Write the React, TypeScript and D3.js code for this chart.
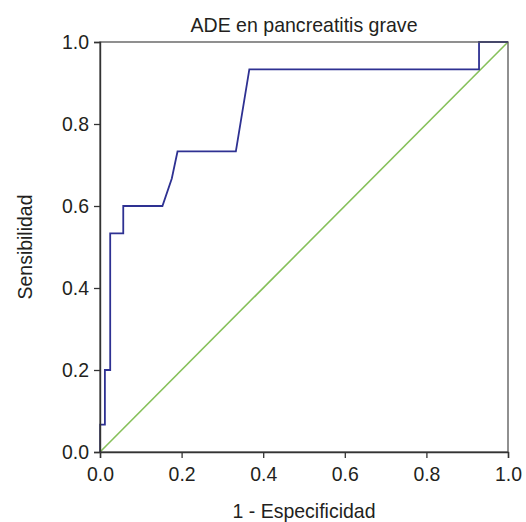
import React, { useEffect, useRef } from "react";
import * as d3 from "d3";

// ROC curve points (1 - especificidad, sensibilidad)
const fpr = [0, 0, 0.012, 0.012, 0.025, 0.025, 0.057, 0.057, 0.153, 0.176, 0.19, 0.333, 0.366, 0.929, 0.929, 1];
const tpr = [0, 0.067, 0.067, 0.2, 0.2, 0.533, 0.533, 0.6, 0.6, 0.667, 0.733, 0.733, 0.933, 0.933, 1, 1];
const ticks = [0, 0.2, 0.4, 0.6, 0.8, 1];

const title = "ADE en pancreatitis grave";
const xLabel = "1 - Especificidad";
const yLabel = "Sensibilidad";

export default function App() {
  const chartRef = useRef<SVGSVGElement>(null);

  useEffect(() => {
    const svg = d3.select(chartRef.current);
    svg.selectAll("*").remove();

    const font = "'Liberation Sans', Arial, sans-serif";
    const ink = "#231f20";
    const left = 100;
    const right = 508;
    const top = 42;
    const bottom = 452;

    const x = d3.scaleLinear().domain([0, 1]).range([left, right]);
    const y = d3.scaleLinear().domain([0, 1]).range([bottom, top]);

    // Reference diagonal
    svg
      .append("line")
      .attr("x1", x(0))
      .attr("y1", y(0))
      .attr("x2", x(1))
      .attr("y2", y(1))
      .attr("stroke", "#86c05a")
      .attr("stroke-width", 1.6);

    // ROC curve
    const line = d3
      .line<number>()
      .x((d, i) => x(fpr[i]))
      .y((d) => y(d));

    svg
      .append("path")
      .datum(tpr)
      .attr("d", line)
      .attr("fill", "none")
      .attr("stroke", "#2e3192")
      .attr("stroke-width", 1.8);

    // Frame (top and right), drawn over the curve
    svg
      .append("rect")
      .attr("x", left)
      .attr("y", top)
      .attr("width", right - left)
      .attr("height", bottom - top)
      .attr("fill", "none")
      .attr("stroke", "#555")
      .attr("stroke-width", 1.3);

    // X axis
    const xAxis = svg
      .append("g")
      .attr("transform", `translate(0, ${bottom})`)
      .call(d3.axisBottom(x).tickValues(ticks).tickFormat(d3.format(".1f")).tickSizeOuter(0).tickSize(6).tickPadding(8));

    // Y axis
    const yAxis = svg
      .append("g")
      .attr("transform", `translate(${left}, 0)`)
      .call(d3.axisLeft(y).tickValues(ticks).tickFormat(d3.format(".1f")).tickSizeOuter(0).tickSize(6).tickPadding(5));

    [xAxis, yAxis].forEach((g) => {
      g.select(".domain").attr("stroke", "#333").attr("stroke-width", 1.4);
      g.selectAll(".tick line").attr("stroke", "#333").attr("stroke-width", 1.3);
      g.selectAll(".tick text")
        .attr("fill", ink)
        .attr("textLength", 27)
        .attr("lengthAdjust", "spacingAndGlyphs")
        .style("font-family", font)
        .style("font-size", "21px");
    });

    // Title
    svg
      .append("text")
      .attr("x", (left + right) / 2)
      .attr("y", 32)
      .attr("text-anchor", "middle")
      .attr("textLength", 227)
      .attr("lengthAdjust", "spacingAndGlyphs")
      .attr("fill", ink)
      .style("font-family", font)
      .style("font-size", "21px")
      .text(title);

    // Axis titles
    svg
      .append("text")
      .attr("x", (left + right) / 2)
      .attr("y", 518)
      .attr("text-anchor", "middle")
      .attr("textLength", 143)
      .attr("lengthAdjust", "spacingAndGlyphs")
      .attr("fill", ink)
      .style("font-family", font)
      .style("font-size", "21px")
      .text(xLabel);

    svg
      .append("text")
      .attr("transform", `translate(32, ${(top + bottom) / 2}) rotate(-90)`)
      .attr("text-anchor", "middle")
      .attr("textLength", 105)
      .attr("lengthAdjust", "spacingAndGlyphs")
      .attr("fill", ink)
      .style("font-family", font)
      .style("font-size", "21px")
      .text(yLabel);
  }, []);

  return (
    <svg
      ref={chartRef}
      width={526}
      height={522}
      style={{ position: "absolute", left: 0, top: 0, background: "#fff" }}
    ></svg>
  );
}
